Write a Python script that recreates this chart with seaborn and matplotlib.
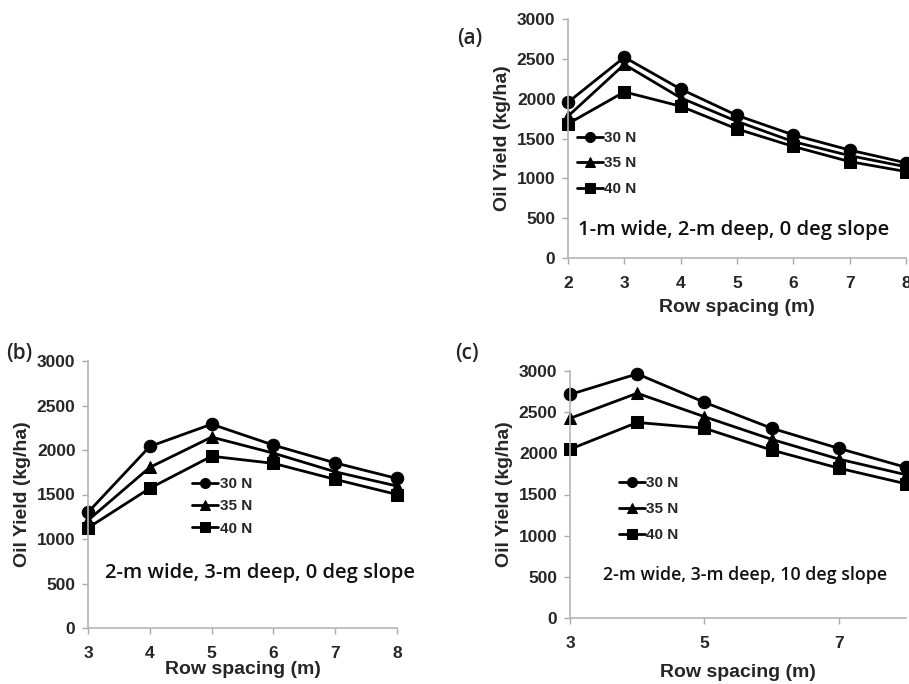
import matplotlib
matplotlib.use("Agg")
import matplotlib.pyplot as plt
import numpy as np
import pandas as pd
import seaborn as sns

# row spacing (m)
spacing_a = [2, 3, 4, 5, 6, 7, 8]
spacing_bc = [3, 4, 5, 6, 7, 8]
series_names = ["30 N", "35 N", "40 N"]

# (a) 1-m wide, 2-m deep, 0 deg slope
yield_a_30 = [1955, 2520, 2120, 1790, 1545, 1355, 1195]
yield_a_35 = [1780, 2430, 2010, 1715, 1460, 1285, 1145]
yield_a_40 = [1685, 2085, 1905, 1620, 1400, 1210, 1085]

# (b) 2-m wide, 3-m deep, 0 deg slope
yield_b_30 = [1300, 2040, 2290, 2055, 1855, 1680]
yield_b_35 = [1210, 1805, 2145, 1965, 1755, 1595]
yield_b_40 = [1125, 1570, 1930, 1850, 1670, 1500]

# (c) 2-m wide, 3-m deep, 10 deg slope
yield_c_30 = [2715, 2965, 2620, 2305, 2060, 1830]
yield_c_35 = [2425, 2730, 2445, 2170, 1930, 1740]
yield_c_40 = [2050, 2375, 2305, 2040, 1820, 1630]

captions = ["1-m wide, 2-m deep, 0 deg slope",
            "2-m wide, 3-m deep, 0 deg slope",
            "2-m wide, 3-m deep, 10 deg slope"]


def long_df(x, s30, s35, s40):
    rows = []
    for name, vals in zip(series_names, [s30, s35, s40]):
        for xi, v in zip(x, vals):
            rows.append({"spacing": xi, "yield": v, "lat": name})
    return pd.DataFrame(rows)


sns.set_style("white")
plt.rcParams["font.family"] = ["Liberation Sans", "DejaVu Sans"]

W, H = 909, 684
fig = plt.figure(figsize=(W / 100, H / 100), dpi=100)


def add_ax(l, r, t, b):
    return fig.add_axes([l / W, 1 - b / H, (r - l) / W, (b - t) / H])


markers = {"30 N": "o", "35 N": "^", "40 N": "s"}
palette = {n: "black" for n in series_names}

panels = [
    dict(df=long_df(spacing_a, yield_a_30, yield_a_35, yield_a_40),
         box=(568, 906, 19, 258), xlim=(2, 8), xticks=[2, 3, 4, 5, 6, 7, 8],
         tag="(a)", tagpos=(457, 49), cap=captions[0], cappos=(0.03, 0.117),
         capsize=14.6, leg=(577 / W, 1 - 131 / H), legspace=0.75, xpad=6),
    dict(df=long_df(spacing_bc, yield_b_30, yield_b_35, yield_b_40),
         box=(88, 397, 361, 628), xlim=(3, 8), xticks=[3, 4, 5, 6, 7, 8],
         tag="(b)", tagpos=(6, 364), cap=captions[1], cappos=(0.055, 0.206),
         capsize=14.5, leg=(192 / W, 1 - 477 / H), legspace=0.55, xpad=0),
    dict(df=long_df(spacing_bc, yield_c_30, yield_c_35, yield_c_40),
         box=(570, 906, 371, 618), xlim=(3, 8), xticks=[3, 5, 7],
         tag="(c)", tagpos=(455, 364), cap=captions[2], cappos=(0.098, 0.174),
         capsize=12.8, leg=(619 / W, 1 - 476 / H), legspace=0.8, xpad=9),
]

for p in panels:
    ax = add_ax(*p["box"])
    sns.lineplot(data=p["df"], x="spacing", y="yield", hue="lat", style="lat",
                 palette=palette, markers=markers, dashes=False, ax=ax,
                 linewidth=2, markersize=9, markeredgecolor="black",
                 clip_on=False)
    ax.set_xlim(*p["xlim"])
    ax.set_ylim(0, 3000)
    ax.set_xticks(p["xticks"])
    ax.set_yticks(np.arange(0, 3001, 500))
    ax.set_xticklabels([str(t) for t in p["xticks"]])
    for lab in ax.get_xticklabels() + ax.get_yticklabels():
        lab.set_fontweight("bold")
        lab.set_fontsize(12.5)
    ax.tick_params(axis="both", length=4, width=1, color="#aaaaaa", pad=5,
                   bottom=True, left=True)
    ax.tick_params(axis="x", pad=9)
    for side in ["top", "right"]:
        ax.spines[side].set_visible(False)
    for side in ["left", "bottom"]:
        ax.spines[side].set_color("#b5b5b5")
        ax.spines[side].set_linewidth(1.2)
    ax.set_xlabel("Row spacing (m)", fontsize=14, fontweight="bold",
                  labelpad=p["xpad"])
    ax.set_ylabel("Oil Yield (kg/ha)", fontsize=14, fontweight="bold", labelpad=4)
    ax.text(p["cappos"][0], p["cappos"][1], p["cap"], transform=ax.transAxes,
            fontsize=p["capsize"], family=["Open Sans", "DejaVu Sans"],
            va="center", ha="left", fontweight="semibold", color="#111111",
            clip_on=False)
    fig.text(p["tagpos"][0] / W, 1 - p["tagpos"][1] / H, p["tag"],
             fontsize=15, family=["Open Sans", "DejaVu Sans"],
             fontweight="semibold", va="bottom", ha="left")
    ax.legend(title=None, loc="upper left", bbox_to_anchor=p["leg"],
              bbox_transform=fig.transFigure, frameon=False,
              prop={"weight": "bold", "size": 11}, handlelength=1.7,
              handletextpad=0.1, labelspacing=p["legspace"], borderpad=0,
              borderaxespad=0, markerscale=0.8)
    ax.patch.set_alpha(0)

fig.savefig("out.png", dpi=100, facecolor="white")
